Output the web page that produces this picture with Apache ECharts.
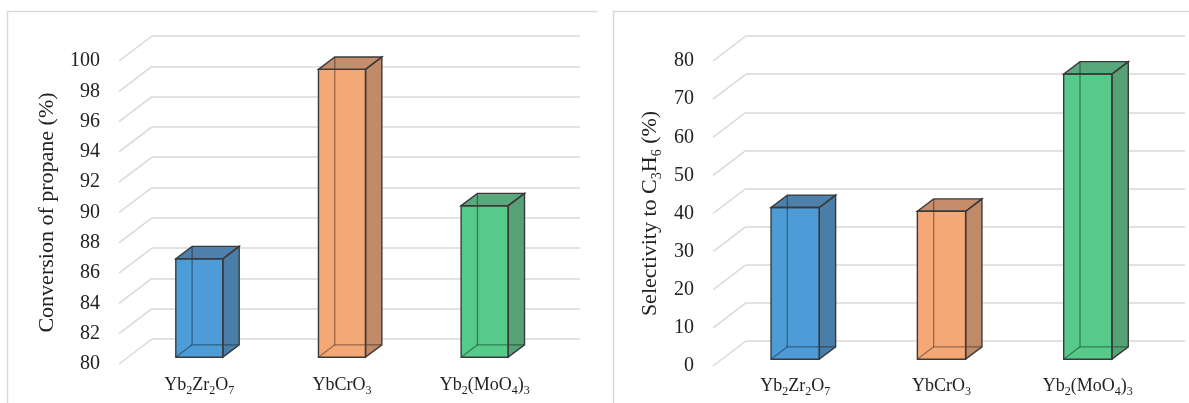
<!DOCTYPE html>
<html><head><meta charset="utf-8">
<script src="https://cdn.jsdelivr.net/npm/echarts@6/dist/echarts.min.js"></script>
<style>html,body{margin:0;padding:0;background:#fff}#c{width:1189px;height:403px}</style>
</head><body><div id="c"></div>
<script>
// ---- data ----
const categories = ['Yb2Zr2O7', 'YbCrO3', 'Yb2(MoO4)3'];
const conversion = [86.5, 99.0, 90.0];
const selectivity = [39.8, 38.8, 74.8];
const conversionTicks = [80, 82, 84, 86, 88, 90, 92, 94, 96, 98, 100];
const selectivityTicks = [0, 10, 20, 30, 40, 50, 60, 70, 80];
const conversionTitle = 'Conversion of propane (%)';
const selectivityTitle = 'Selectivity to C3H6 (%)';

// ---- styles ----
const FONT = '"Liberation Serif", "Times New Roman", serif';
const TXT = '#222';
const GRIDC = '#d9d9d9';
const frontCol = ['#4e9cd7', '#f3a875', '#55ca89'];
const sideCol  = ['#4a7ea8', '#bf8a68', '#56a277'];
const topCol   = ['#4f80aa', '#c58d6b', '#58a87b'];
const DX = 33, DY = 25;          // full depth offset of the floor (px)
const DF = 0.727, DB = 0.233;    // bar front / back depth fractions
const BARW = 0.33;

function sub(s) {
  return s.split(/(\d+)/).filter(t => t.length).map(t => /^\d+$/.test(t) ? '{s|' + t + '}' : '{n|' + t + '}').join('');
}

function makeBarRender(minV) {
  return function (params, api) {
    const i = api.value(0), v = api.value(1), k = params.dataIndex;
    const base = api.coord([i, minV]);
    const top = api.coord([i, v]);
    const bw = api.size([1, 0])[0] * BARW;
    const cx = base[0];
    const fl = cx - DX * DF - bw / 2, fr = fl + bw, ft = top[1] + DY * DF, fb = base[1] + DY * DF;
    const bl = cx - DX * DB - bw / 2, br = bl + bw, bt = top[1] + DY * DB, bb = base[1] + DY * DB;
    const edge = { stroke: '#3a3a3a', lineWidth: 1.4, fill: null };
    return {
      type: 'group',
      children: [
        { type: 'polygon', shape: { points: [[fl, ft], [fr, ft], [fr, fb], [fl, fb]] }, style: { fill: frontCol[k] } },
        { type: 'polygon', shape: { points: [[fr, ft], [br, bt], [br, bb], [fr, fb]] }, style: { fill: sideCol[k] } },
        { type: 'polygon', shape: { points: [[fl, ft], [bl, bt], [br, bt], [fr, ft]] }, style: { fill: topCol[k] } },
        { type: 'polyline', shape: { points: [[bl, bt], [bl, bb], [br, bb]] }, style: { stroke: 'rgba(0,0,0,0.38)', lineWidth: 1.3, fill: null } },
        { type: 'polyline', shape: { points: [[fl, fb], [bl, bb]] }, style: { stroke: 'rgba(0,0,0,0.38)', lineWidth: 1.3, fill: null } },
        { type: 'polygon', shape: { points: [[fl, ft], [fr, ft], [fr, fb], [fl, fb]] }, style: edge },
        { type: 'polygon', shape: { points: [[fl, ft], [bl, bt], [br, bt], [fr, ft]] }, style: edge },
        { type: 'polygon', shape: { points: [[fr, ft], [br, bt], [br, bb], [fr, fb]] }, style: edge }
      ]
    };
  };
}

function diagRender(params, api) {
  const p = api.coord([0, api.value(1)]);
  const x0 = params.coordSys.x;
  return { type: 'line', shape: { x1: x0, y1: p[1], x2: x0 - DX, y2: p[1] + DY }, style: { stroke: GRIDC, lineWidth: 1.5 } };
}

const richCat = {
  n: { fontFamily: FONT, fontSize: 18, color: TXT, lineHeight: 24 },
  s: { fontFamily: FONT, fontSize: 12, color: TXT, lineHeight: 12, verticalAlign: 'bottom' }
};
const richTitle = {
  n: { fontFamily: FONT, fontSize: 22, color: TXT, lineHeight: 28 },
  s: { fontFamily: FONT, fontSize: 14, color: TXT, lineHeight: 14, verticalAlign: 'bottom' }
};

// panel geometry (back wall)
const panels = [
  { left: 152, top: 36, width: 428, height: 303, min: 80, max: 100, interval: 2, values: conversion, ticks: conversionTicks, title: conversionTitle, nameGap: 58, catMargin: 16 },
  { left: 746, top: 36, width: 439, height: 305, min: 0, max: 80, interval: 10, values: selectivity, ticks: selectivityTicks, title: selectivityTitle, nameGap: 49, catMargin: 15 }
];

const grid = [], xAxis = [], yAxis = [], series = [];
panels.forEach((p, pi) => {
  const g0 = grid.length;
  grid.push({ left: p.left, top: p.top, width: p.width, height: p.height });
  grid.push({ left: p.left - DX, top: p.top + DY, width: p.width, height: p.height });
  grid.push({ left: p.left - DX * DF, top: p.top + DY * DF, width: p.width, height: p.height });

  xAxis.push({ gridIndex: g0, type: 'category', data: categories, axisLine: { show: false }, axisTick: { show: false }, axisLabel: { show: false } });
  xAxis.push({ gridIndex: g0 + 1, type: 'category', data: categories, show: false });
  xAxis.push({ gridIndex: g0 + 2, type: 'category', data: categories, axisLine: { show: false }, axisTick: { show: false },
    axisLabel: { interval: 0, hideOverlap: false, margin: p.catMargin, formatter: v => sub(v), rich: richCat } });

  yAxis.push({ gridIndex: g0, type: 'value', min: p.min, max: p.max, interval: p.interval, axisLine: { show: false }, axisTick: { show: false }, axisLabel: { show: false },
    splitLine: { show: true, lineStyle: { color: GRIDC, width: 1.5 } } });
  yAxis.push({ gridIndex: g0 + 1, type: 'value', min: p.min, max: p.max, interval: p.interval, axisLine: { show: false }, axisTick: { show: false }, splitLine: { show: false },
    axisLabel: { margin: 19, fontFamily: FONT, fontSize: 20, color: TXT },
    name: sub(p.title), nameLocation: 'middle', nameGap: p.nameGap, nameRotate: 90, nameTextStyle: { rich: richTitle } });
  yAxis.push({ gridIndex: g0 + 2, type: 'value', min: p.min, max: p.max, show: false });

  series.push({ type: 'custom', xAxisIndex: g0, yAxisIndex: g0, renderItem: diagRender, data: p.ticks.map(t => [0, t]), z: 1, silent: true });
  series.push({ type: 'custom', xAxisIndex: g0, yAxisIndex: g0, renderItem: makeBarRender(p.min), data: p.values.map((v, i) => [i, v]), z: 5, silent: true });
});

const chart = echarts.init(document.getElementById('c'), null, { renderer: 'canvas' });
chart.setOption({
  animation: false,
  backgroundColor: '#fff',
  grid, xAxis, yAxis, series,
  graphic: [
    { type: 'polyline', shape: { points: [[7.5, 410], [7.5, 11.5], [597.5, 11.5]] }, style: { fill: null, stroke: GRIDC, lineWidth: 1.5 }, z: 0 },
    { type: 'polyline', shape: { points: [[613.5, 410], [613.5, 11.5], [1195, 11.5]] }, style: { fill: null, stroke: GRIDC, lineWidth: 1.5 }, z: 0 }
  ]
});
</script>
</body></html>
